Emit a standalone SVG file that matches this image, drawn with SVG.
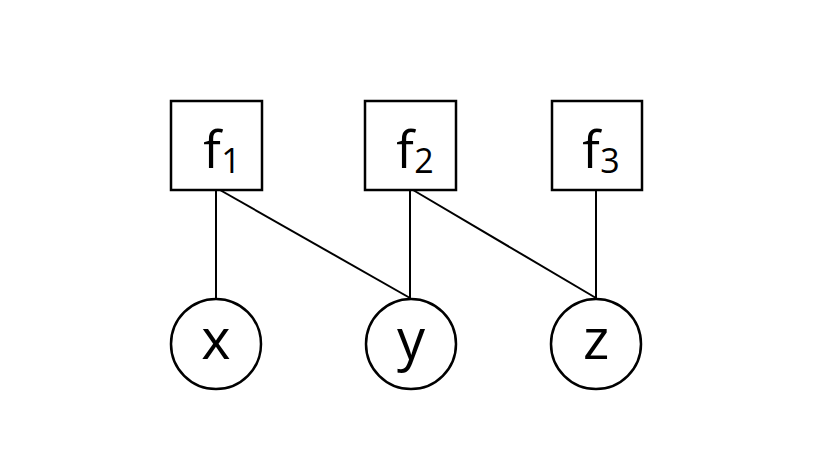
<svg xmlns="http://www.w3.org/2000/svg" width="819" height="460" viewBox="0 0 819 460">
<style>
.n{fill:#fff;stroke:#000;stroke-width:2.5}
.e{stroke:#000;stroke-width:2;fill:none}
.t{font-family:"Open Sans","Liberation Sans",sans-serif;fill:#000;text-anchor:middle}
.b{font-size:52px}
.s{font-size:34px}
</style>
<rect width="819" height="460" fill="#fff"/>
<g id="edges">
<line class="e" x1="216" y1="190" x2="216" y2="298"/>
<line class="e" x1="220" y1="190" x2="410" y2="298"/>
<line class="e" x1="410" y1="190" x2="410" y2="298"/>
<line class="e" x1="413" y1="190" x2="596" y2="298"/>
<line class="e" x1="596" y1="190" x2="596" y2="298"/>
</g>
<g id="f1"><rect class="n" x="171" y="101" width="91" height="89"/><text class="t b" x="212" y="168">f</text><text class="t s" x="231" y="173">1</text></g>
<g id="f2"><rect class="n" x="365" y="101" width="91" height="89"/><text class="t b" x="405" y="168">f</text><text class="t s" x="424" y="173">2</text></g>
<g id="f3"><rect class="n" x="552" y="101" width="90" height="89"/><text class="t b" x="591" y="168">f</text><text class="t s" x="610" y="173">3</text></g>
<g id="x"><circle class="n" cx="216" cy="344" r="45"/><text class="t" style="font-size:56px" x="216" y="359">x</text></g>
<g id="y"><circle class="n" cx="411" cy="344" r="45"/><text class="t" style="font-size:56px" x="411" y="359">y</text></g>
<g id="z"><circle class="n" cx="596" cy="344" r="45"/><text class="t" style="font-size:56px" x="596" y="359">z</text></g>
</svg>
